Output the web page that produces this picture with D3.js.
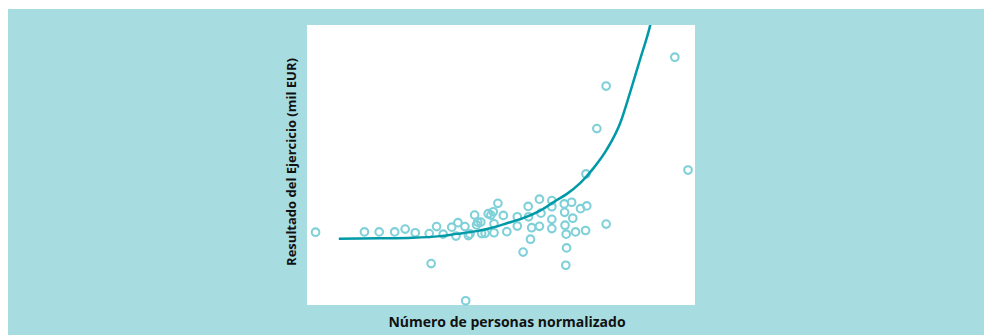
<!DOCTYPE html>
<html>
<head>
<meta charset="utf-8">
<script src="https://cdn.jsdelivr.net/npm/d3@7"></script>
<style>
  html, body { margin: 0; padding: 0; background: #ffffff; }
  svg { display: block; }
  .axis-title { font-family: "Open Sans", "DejaVu Sans", sans-serif; font-weight: 700; fill: #111; }
</style>
</head>
<body>
<svg id="chart" width="984" height="335"></svg>
<script>
// Observations: normalized staff count vs. yearly result
const companyX = [2.2, 14.8, 18.6, 22.6, 25.3, 27.9, 31.5, 33.4, 35.1, 37.3, 38.4, 38.9, 40.7, 41.6, 42.0,
  43.2, 43.7, 44.0, 44.8, 45.0, 45.9, 46.7, 47.4, 48.0, 48.2, 48.2, 49.2, 50.6, 51.5, 54.2, 54.2,
  57.0, 57.1, 57.6, 57.9, 55.7, 59.9, 59.9, 60.3, 63.1, 63.1, 63.1, 63.1, 66.3, 66.4, 66.5, 66.8,
  66.9, 66.7, 68.2, 68.5, 69.2, 70.5, 72.1, 71.8, 71.9, 74.7, 77.1, 77.1, 94.8, 98.2, 32.0, 40.9];
const companyY = [26.0, 26.1, 26.1, 26.1, 27.1, 25.8, 25.5, 28.0, 25.3, 27.8, 24.6, 29.4, 28.0, 24.8, 25.4,
  32.1, 28.6, 29.6, 29.6, 25.5, 25.6, 32.6, 32.1, 33.3, 29.0, 25.8, 36.3, 32.0, 26.2, 31.5, 28.2,
  35.2, 31.5, 23.5, 27.6, 18.9, 37.8, 28.1, 32.8, 37.3, 35.1, 30.6, 27.3, 36.1, 33.1, 28.5, 25.3,
  20.4, 14.2, 36.7, 31.0, 26.1, 34.4, 35.4, 26.6, 46.8, 63.0, 78.2, 28.9, 88.5, 48.2, 14.8, 1.5];

// Fitted trend line
const trendX = [8.2, 18.8, 27.3, 34.3, 38.6, 42.9, 47.2, 51.5, 55.7, 60.1, 64.4, 66.9, 70.4, 73.8, 77.2, 80.7, 83.2, 85.8, 88.4, 88.9];
const trendY = [23.7, 23.8, 24.0, 24.6, 25.4, 26.2, 27.4, 29.2, 31.0, 33.7, 37.5, 39.6, 43.5, 48.8, 55.4, 64.9, 75.6, 87.5, 99.6, 102.5];

const xTitle = "Número de personas normalizado";
const yTitle = "Resultado del Ejercicio (mil EUR)";

const svg = d3.select("#chart");
const W = 984, H = 335;

// Panel background
svg.append("rect").attr("x", 8).attr("y", 9).attr("width", W - 8).attr("height", H - 9).attr("fill", "#a7dce1");

const plot = { left: 307, right: 695, top: 25, bottom: 305 };
svg.append("rect")
  .attr("x", plot.left).attr("y", plot.top)
  .attr("width", plot.right - plot.left).attr("height", plot.bottom - plot.top)
  .attr("fill", "#ffffff");

const x = d3.scaleLinear().domain([0, 100]).range([plot.left, plot.right]);
const y = d3.scaleLinear().domain([0, 100]).range([plot.bottom, plot.top]);

svg.append("clipPath").attr("id", "plot-clip")
  .append("rect")
  .attr("x", plot.left).attr("y", plot.top)
  .attr("width", plot.right - plot.left).attr("height", plot.bottom - plot.top);

const points = companyX.map((v, i) => ({ x: v, y: companyY[i] }));
svg.append("g")
  .selectAll("circle")
  .data(points)
  .join("circle")
  .attr("cx", d => x(d.x))
  .attr("cy", d => y(d.y))
  .attr("r", 3.8)
  .attr("fill", "none")
  .attr("stroke", "#7fd0d8")
  .attr("stroke-width", 2.1);

const trend = trendX.map((v, i) => ({ x: v, y: trendY[i] }));
svg.append("path")
  .datum(trend)
  .attr("clip-path", "url(#plot-clip)")
  .attr("fill", "none")
  .attr("stroke", "#0099a8")
  .attr("stroke-width", 2.5)
  .attr("d", d3.line().x(d => x(d.x)).y(d => y(d.y)).curve(d3.curveMonotoneX));

// Axis titles
svg.append("text")
  .attr("class", "axis-title")
  .attr("x", 507).attr("y", 327)
  .attr("text-anchor", "middle")
  .attr("font-size", 14)
  .text(xTitle);

svg.append("text")
  .attr("class", "axis-title")
  .attr("transform", "translate(296,162) rotate(-90)")
  .attr("text-anchor", "middle")
  .attr("font-size", 13)
  .text(yTitle);
</script>
</body>
</html>
